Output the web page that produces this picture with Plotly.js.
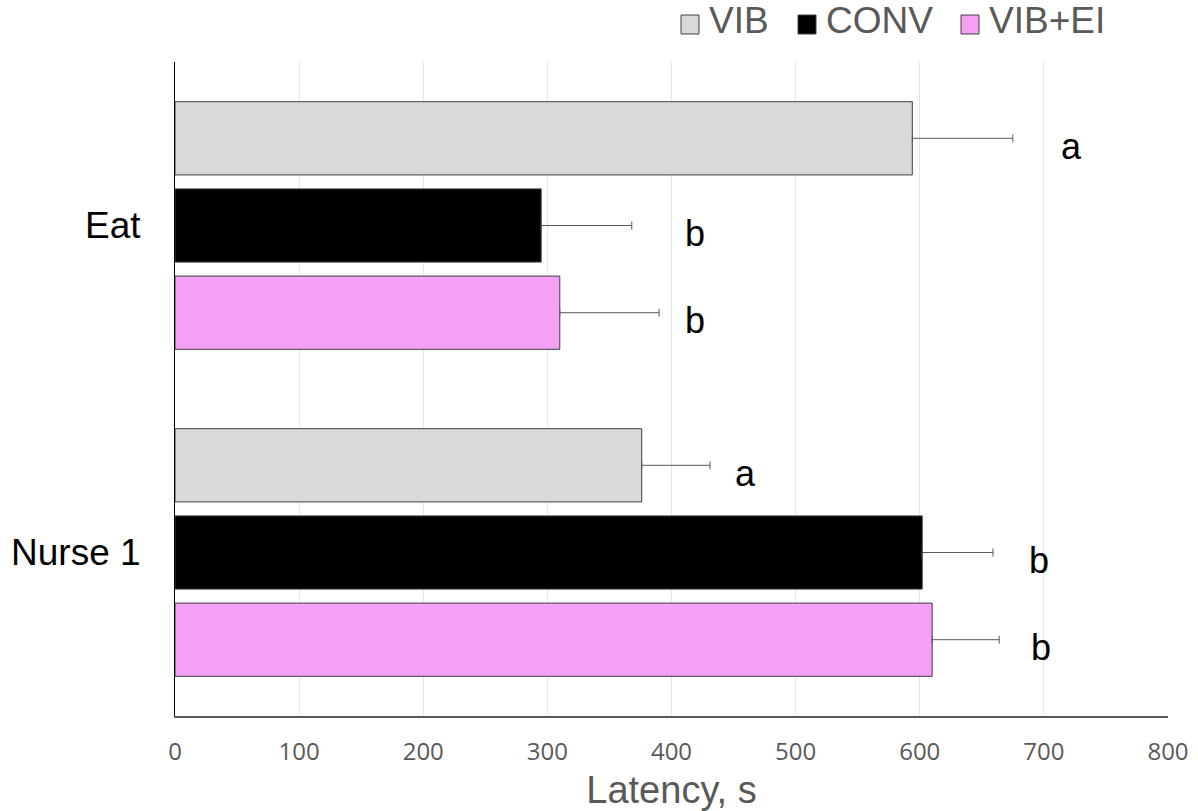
<!DOCTYPE html>
<html>
<head>
<meta charset="utf-8">
<script src="https://cdn.plot.ly/plotly-3.0.1.min.js"></script>
<style>html,body{margin:0;padding:0;background:#fff}#chart{width:1198px;height:811px}</style>
</head>
<body>
<div id="chart"></div>
<script>
const categories = ['Eat', 'Nurse 1'];
const seriesNames = ['VIB', 'CONV', 'VIB+EI'];
const vibValues = [594, 376];
const convValues = [295, 602];
const vibEiValues = [310, 610];
const vibErr = [81, 55];
const convErr = [73, 57];
const vibEiErr = [80, 54];
const vibLetters = ['a', 'a'];
const convLetters = ['b', 'b'];
const vibEiLetters = ['b', 'b'];
const vibLetterX = [722, 460];
const convLetterX = [419, 696];
const vibEiLetterX = [419, 698];
const xTicks = [0, 100, 200, 300, 400, 500, 600, 700, 800];

const colors = ['#D9D9D9', '#000000', '#F4A0F4'];
const values = [vibValues, convValues, vibEiValues];
const errs = [vibErr, convErr, vibEiErr];
const letters = [vibLetters, convLetters, vibEiLetters];
const letterX = [vibLetterX, convLetterX, vibEiLetterX];

const traces = seriesNames.map((name, i) => ({
  type: 'bar',
  orientation: 'h',
  name: name,
  y: categories,
  x: values[i],
  marker: {color: colors[i], line: {color: '#404040', width: 1}},
  error_x: {type: 'data', symmetric: false, array: errs[i], arrayminus: errs[i].map(() => 0),
            color: '#595959', thickness: 1, width: 4},
  showlegend: false,
  hoverinfo: 'x+name'
}));

const slot = 0.8 / 3;
const annotations = [];
const shapes = [];
seriesNames.forEach((name, i) => {
  categories.forEach((c, j) => {
    annotations.push({
      x: letterX[i][j], y: j + (i - 1) * slot, xref: 'x', yref: 'y',
      text: letters[i][j], showarrow: false, yshift: -8,
      font: {family: 'Liberation Sans, Arial, sans-serif', size: 36, color: '#000'},
      xanchor: 'center', yanchor: 'middle'
    });
  });
});

// custom legend (paper coords; plot area 175..1168 x 62..716 px)
const plotL = 175, plotW = 993, plotB = 716, plotH = 654;
const px = v => (v - plotL) / plotW;
const py = v => (plotB - v) / plotH;
const legendSquareX = [681, 798, 961];
seriesNames.forEach((name, i) => {
  shapes.push({
    type: 'rect', xref: 'paper', yref: 'paper',
    x0: px(legendSquareX[i]), x1: px(legendSquareX[i] + 18),
    y0: py(34), y1: py(15),
    fillcolor: colors[i], line: {color: '#404040', width: 1}
  });
  annotations.push({
    xref: 'paper', yref: 'paper', x: px(legendSquareX[i] + 26), y: py(21),
    xanchor: 'left', yanchor: 'middle', showarrow: false, text: name,
    font: {family: 'Liberation Sans, Arial, sans-serif', size: 37, color: '#595959'}
  });
});

const layout = {
  width: 1198, height: 811,
  margin: {l: 175, r: 30, t: 62, b: 95},
  paper_bgcolor: '#fff', plot_bgcolor: '#fff',
  barmode: 'group', bargap: 0.2, bargroupgap: 0.16,
  showlegend: false,
  xaxis: {
    range: [0, 800], tickvals: xTicks, ticktext: xTicks.map(String),
    showgrid: true, gridcolor: '#E6E6E6', gridwidth: 1,
    showline: true, linecolor: '#595959', linewidth: 1.5,
    zeroline: false, ticks: '', ticklabelstandoff: 14,
    tickfont: {family: 'Open Sans, sans-serif', size: 24, color: '#595959'},
    title: {text: 'Latency, s', font: {family: 'Liberation Sans, Arial, sans-serif', size: 38, color: '#595959'}, standoff: 12}
  },
  yaxis: {
    type: 'category', autorange: 'reversed',
    showgrid: false, showline: true, linecolor: '#000', linewidth: 1,
    zeroline: false, ticks: '', ticklabelstandoff: 26,
    tickfont: {family: 'Liberation Sans, Arial, sans-serif', size: 37, color: '#000'}
  },
  shapes: shapes,
  annotations: annotations
};

Plotly.newPlot('chart', traces, layout, {displayModeBar: false, staticPlot: true});
</script>
</body>
</html>
